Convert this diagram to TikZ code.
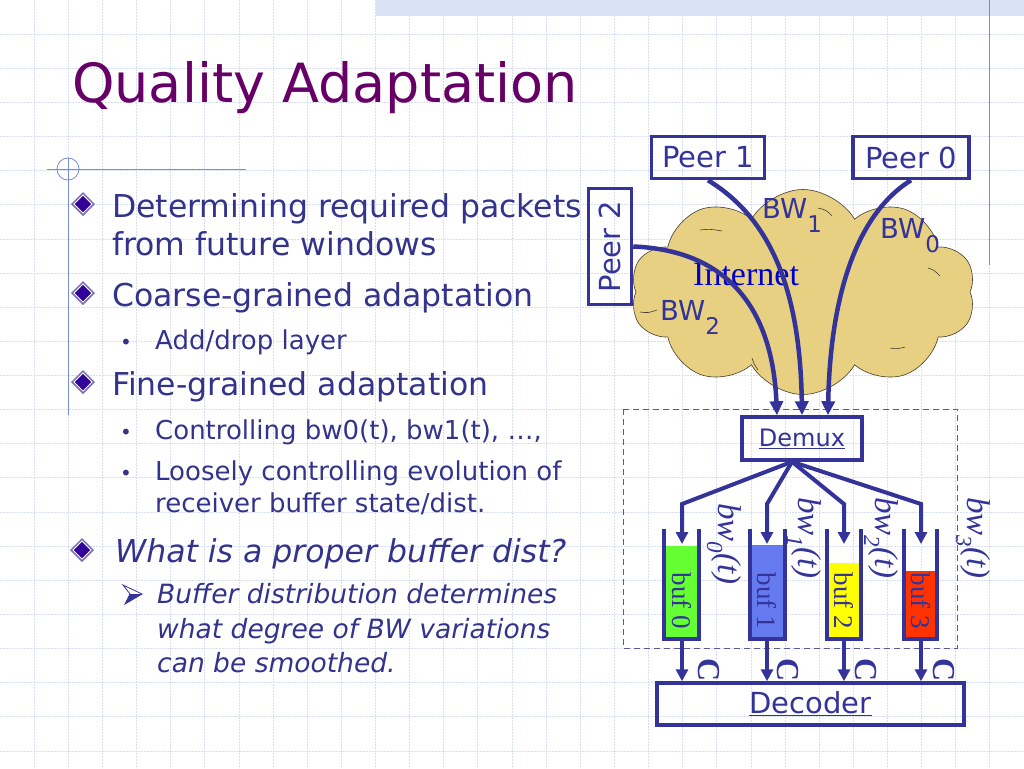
\documentclass[tikz,border=0pt]{standalone}
\usepackage{fontspec}
\setmainfont{DejaVu Sans}
\newfontfamily\seriffont{Liberation Serif}
\usetikzlibrary{arrows.meta,shapes.symbols,shapes.geometric}
\definecolor{navy}{RGB}{51,51,153}
\definecolor{txt}{RGB}{51,51,140}
\definecolor{ttl}{RGB}{102,0,102}
\definecolor{gridc}{RGB}{214,222,246}
\definecolor{deco}{RGB}{120,140,220}
\definecolor{cloudc}{RGB}{232,208,130}
\definecolor{cloudline}{RGB}{70,60,50}
\definecolor{band}{RGB}{218,226,246}
\definecolor{bgreen}{RGB}{102,255,51}
\definecolor{bblue}{RGB}{102,122,240}
\definecolor{byellow}{RGB}{255,255,0}
\definecolor{bred}{RGB}{255,51,0}
\definecolor{inetblue}{RGB}{0,0,204}
\definecolor{dashc}{RGB}{90,90,150}
\definecolor{dout}{RGB}{120,110,185}
\definecolor{din}{RGB}{51,0,153}
\begin{document}
\begin{tikzpicture}[x=1pt,y=-1pt,
  gridline/.style={gridc, line width=0.8pt, dash pattern=on 2pt off 1pt},
  body/.style={anchor=base west, inner sep=0, text=txt},
  lone/.style={body, font=\fontsize{31.5}{36}\selectfont},
  ltwo/.style={body, font=\fontsize{26}{30}\selectfont},
  lonei/.style={body, font=\fontsize{31.5}{36}\selectfont\itshape},
  ltwoi/.style={body, font=\fontsize{26.5}{30}\selectfont\itshape},
  dotb/.style={body, font=\fontsize{20}{22}\selectfont},
  pbox/.style={draw=navy, line width=3.5pt, inner sep=0, text=navy, font=\fontsize{29}{32}\selectfont},
  bwlab/.style={anchor=base west, inner sep=0, text=navy, font=\fontsize{27.5}{30}\selectfont},
  flow/.style={navy, line width=4.5pt, -{Triangle[length=14pt,width=13pt]}},
  feed/.style={navy, line width=4pt, -{Triangle[length=12pt,width=12pt]}},
  wall/.style={navy, line width=4pt},
  buflab/.style={inner sep=0, rotate=-90, text=navy, font=\fontsize{27}{28}\selectfont\seriffont},
  rate/.style={anchor=base west, inner sep=0, rotate=-90, text=navy, font=\fontsize{33}{34}\selectfont\seriffont\itshape},
  clab/.style={inner sep=0, rotate=-90, text=navy, font=\fontsize{32}{34}\selectfont\seriffont\bfseries},
  cstroke/.style={cloudline, line width=0.6pt},
  dbul/.pic={
    \fill[dout] (-12,0) -- (0,-12) -- (12,0) -- (0,12) -- cycle;
    \draw[white, line width=0.8pt] (-9,0) -- (0,-9) -- (9,0) -- (0,9) -- cycle;
    \fill[din] (-8,0) -- (0,-8) -- (8,0) -- (0,8) -- cycle;
  }
]
\useasboundingbox (0,0) rectangle (1024,768);
\fill[white] (0,0) rectangle (1024,768);
% grid
\foreach \i in {1,...,29}{\draw[gridline] (\i*34.1333,0) -- (\i*34.1333,768);}
\foreach \j in {1,...,22}{\draw[gridline] (0,\j*34.1333) -- (1024,\j*34.1333);}
% top band and right rule
\fill[band] (376,0) rectangle (1024,16);
\draw[deco, line width=1pt] (989,0) -- (989,265);
% title
\node[anchor=base west, inner sep=0, text=ttl, font=\fontsize{54}{60}\selectfont] (title) at (72,102) {Quality Adaptation};
% left decoration
\draw[deco, line width=1pt] (47,169) -- (246,169);
\draw[deco, line width=1pt] (68,158) -- (68,415);
\draw[deco, line width=0.8pt] (68,169) circle[radius=11pt];
% bullets
\pic at (83,204) {dbul};
\node[lone] (t1) at (112,217) {Determining required packets};
\node[lone] (t2) at (112,255) {from future windows};
\pic at (83,293) {dbul};
\node[lone] (t3) at (112,306) {Coarse-grained adaptation};
\node[dotb] (d1) at (120,349) {•};
\node[ltwo] (t4) at (155,349) {Add/drop layer};
\pic at (83,382) {dbul};
\node[lone] (t5) at (112,395) {Fine-grained adaptation};
\node[dotb] (d2) at (120,439) {•};
\node[ltwo] (t6) at (155,439) {Controlling bw0(t), bw1(t), …,};
\node[dotb] (d3) at (120,480) {•};
\node[ltwo] (t7) at (155,480) {Loosely controlling evolution of};
\node[ltwo] (t8) at (155,512) {receiver buffer state/dist.};
\pic at (82,550) {dbul};
\node[lonei] (t9) at (115,562) {What is a proper buffer dist?};
\draw[navy, line width=0.8pt, fill=white] (123,585) -- (142,594) -- (125,604) -- (130,594) -- cycle;
\fill[navy] (130,594) -- (142,594) -- (125,604) -- cycle;
\node[ltwoi] (t10) at (157,603) {Buffer distribution determines};
\node[ltwoi] (t11) at (157,638) {what degree of BW variations};
\node[ltwoi] (t12) at (157,672) {can be smoothed.};
% cloud
\node[cloud, cloud puffs=10, cloud puff arc=120, aspect=1.7, minimum width=345pt, minimum height=205pt, draw=cloudline, line width=0.6pt, fill=cloudc] (cloud) at (803,292) {};
\draw[cstroke] (700,230) .. controls (710,229) .. (722,231);
\draw[cstroke] (818,208) .. controls (826,210) .. (832,216);
\draw[cstroke] (928,268) .. controls (934,270) .. (940,276);
\draw[cstroke] (890,348) .. controls (897,349) .. (905,347);
\draw[cstroke] (752,358) .. controls (754,364) .. (758,370);
\draw[cstroke] (640,312) .. controls (648,313) .. (657,310);
\node[anchor=base west, inner sep=0, text=inetblue, font=\fontsize{34}{36}\selectfont\seriffont] (inet) at (693,285) {Internet};
\node[bwlab] (bw1) at (762,218) {BW\raisebox{-14pt}{\fontsize{23}{23}\selectfont 1}};
\node[bwlab] (bw0) at (880,238) {BW\raisebox{-14pt}{\fontsize{23}{23}\selectfont 0}};
\node[bwlab] (bw2) at (660,320) {BW\raisebox{-14pt}{\fontsize{23}{23}\selectfont 2}};
% peers
\node[pbox, minimum width=113pt, minimum height=42pt] (p1) at (708,157.5) {Peer 1};
\node[pbox, minimum width=116pt, minimum height=42pt] (p0) at (911,157.5) {Peer 0};
\node[pbox, rotate=90, minimum width=116pt, minimum height=43pt] (p2) at (610,246.5) {Peer 2};
% dashed receiver box
\draw[dashc, line width=1pt, dash pattern=on 6pt off 4pt] (623,409) rectangle (957,648);
% demux and decoder
\node[pbox, minimum width=120pt, minimum height=43pt, font=\fontsize{24}{26}\selectfont] (demux) at (802,438.5) {\underline{Demux}};
\node[pbox, minimum width=307pt, minimum height=42pt] (dec) at (810.5,704) {\underline{Decoder}};
% flows from peers
\draw[flow] (p2.south) .. controls (720,250) and (772,300) .. ([xshift=-25pt]demux.north);
\draw[flow] (p1.south) .. controls (765,215) and (800,280) .. (demux.north);
\draw[flow] (p0.south) .. controls (855,215) and (830,300) .. ([xshift=26pt]demux.north);
% buffers
\node[inner sep=0, fill=bgreen, minimum width=35pt, minimum height=93pt, anchor=south] (f0) at (681.5,639) {};
\node[inner sep=0, fill=bblue, minimum width=35pt, minimum height=94pt, anchor=south] (f1) at (767.5,639) {};
\node[inner sep=0, fill=byellow, minimum width=34pt, minimum height=76pt, anchor=south] (f2) at (844,639) {};
\node[inner sep=0, fill=bred, minimum width=33pt, minimum height=68pt, anchor=south] (f3) at (920.5,639) {};
\draw[wall] (664,529) -- (664,639) -- (699,639) -- (699,529);
\draw[wall] (750,529) -- (750,639) -- (785,639) -- (785,529);
\draw[wall] (827,529) -- (827,639) -- (861,639) -- (861,529);
\draw[wall] (904,529) -- (904,639) -- (937,639) -- (937,529);
\node[buflab] (l0) at (682,601) {buf 0};
\node[buflab] (l1) at (767,601) {buf 1};
\node[buflab] (l2) at (844,601) {buf 2};
\node[buflab] (l3) at (921,601) {buf 3};
% demux to buffers
\coordinate (dmx) at ([xshift=-10pt]demux.south);
\coordinate (i0) at (682,544);
\coordinate (i1) at (767,544);
\coordinate (i2) at (844,544);
\coordinate (i3) at (921,544);
\draw[feed] (dmx) -- (682,504) -- (i0);
\draw[feed] (dmx) -- (767,504) -- (i1);
\draw[feed] (dmx) -- (844,504) -- (i2);
\draw[feed] (dmx) -- (921,504) -- (i3);
% rates
\node[rate] (r0) at (718,503) {bw\raisebox{-11pt}{\fontsize{23}{23}\selectfont 0}(t)};
\node[rate] (r1) at (798,497) {bw\raisebox{-11pt}{\fontsize{23}{23}\selectfont 1}(t)};
\node[rate] (r2) at (875,497) {bw\raisebox{-11pt}{\fontsize{23}{23}\selectfont 2}(t)};
\node[rate] (r3) at (967,497) {bw\raisebox{-11pt}{\fontsize{23}{23}\selectfont 3}(t)};
% buffers to decoder
\draw[feed] (682,641) -- (682,0 |- dec.north);
\draw[feed] (767,641) -- (767,0 |- dec.north);
\draw[feed] (844,641) -- (844,0 |- dec.north);
\draw[feed] (921,641) -- (921,0 |- dec.north);
\node[clab] (c0) at (709,670) {C};
\node[clab] (c1) at (788,670) {C};
\node[clab] (c2) at (866,670) {C};
\node[clab] (c3) at (944,670) {C};
\end{tikzpicture}
\end{document}
